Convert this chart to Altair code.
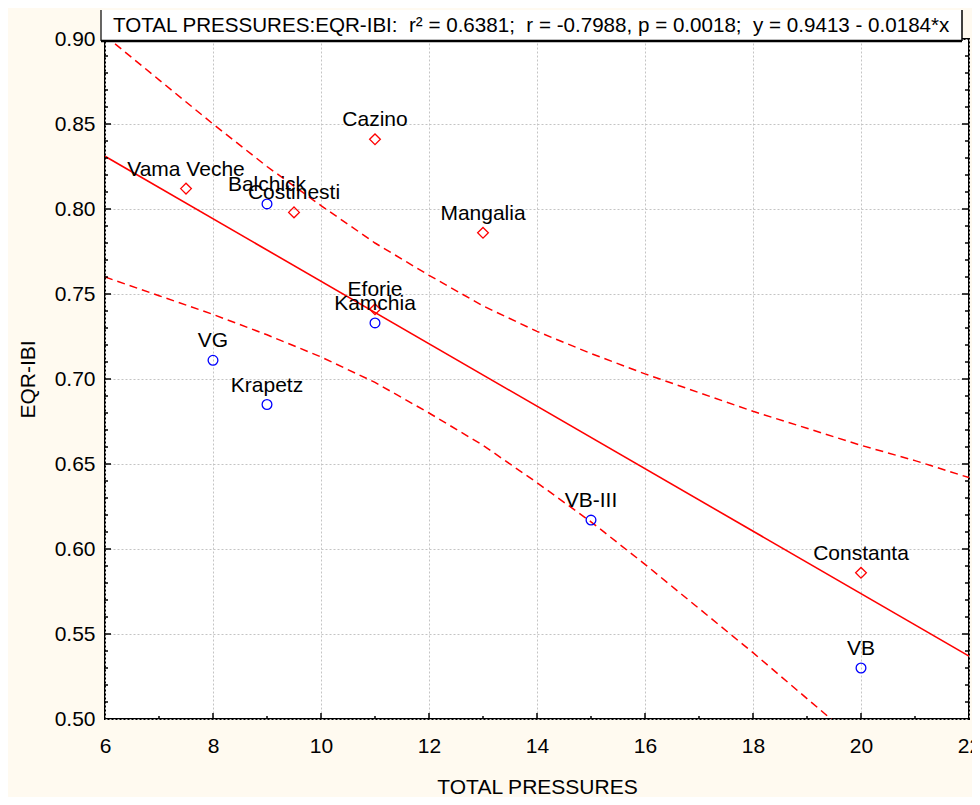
import altair as alt
import pandas as pd

# ---------------- data ----------------
site_names = ["Vama Veche", "Costinesti", "Cazino", "Mangalia", "Eforie", "Constanta",
              "Balchick", "VG", "Krapetz", "Kamchia", "VB-III", "VB"]
pressures = [7.5, 9.5, 11, 13, 11, 20, 9, 8, 9, 11, 15, 20]
eqr_ibi = [0.812, 0.798, 0.841, 0.786, 0.741, 0.586, 0.803, 0.711, 0.685, 0.733, 0.617, 0.530]
group = ["RO", "RO", "RO", "RO", "RO", "RO", "BG", "BG", "BG", "BG", "BG", "BG"]

fit_x = [6, 22]
fit_y = [0.831, 0.537]

band_x = [6, 7, 8, 9, 10, 11, 12, 13, 14, 15, 16, 17, 18, 19, 20, 21, 22]
band_upper = [0.902, 0.876, 0.850, 0.825, 0.802, 0.780, 0.761, 0.743, 0.728,
              0.715, 0.703, 0.692, 0.681, 0.671, 0.661, 0.652, 0.642]
band_lower = [0.760, 0.749, 0.738, 0.726, 0.713, 0.698, 0.680, 0.661, 0.639,
              0.616, 0.591, 0.565, 0.539, 0.512, 0.485, 0.458, 0.431]

x_labels = [6, 8, 10, 12, 14, 16, 18, 20, 22]
x_major_ticks = [8, 10, 12, 14, 16, 18, 20]
x_minor_ticks = [7, 9, 11, 13, 15, 17, 19, 21]
y_labels = [0.50, 0.55, 0.60, 0.65, 0.70, 0.75, 0.80, 0.85, 0.90]
y_major_ticks = [0.55, 0.60, 0.65, 0.70, 0.75, 0.80, 0.85]
y_minor_ticks = [0.51, 0.52, 0.53, 0.54, 0.56, 0.57, 0.58, 0.59, 0.61, 0.62, 0.63, 0.64,
                 0.66, 0.67, 0.68, 0.69, 0.71, 0.72, 0.73, 0.74, 0.76, 0.77, 0.78, 0.79,
                 0.81, 0.82, 0.83, 0.84, 0.86, 0.87, 0.88, 0.89]

title_text = ("TOTAL PRESSURES:EQR-IBI:\u00a0\u00a0r\u00b2 = 0.6381;\u00a0\u00a0r = -0.7988, "
              "p = 0.0018;\u00a0\u00a0y = 0.9413 - 0.0184*x")

# ---------------- layout ----------------
W, H = 864, 680
FONT = "Liberation Sans"
FS = 21
RED = "#ff0000"
BLUE = "#0000ff"

xs = alt.Scale(domain=[6, 22], nice=False, zero=False)
ys = alt.Scale(domain=[0.5, 0.9], nice=False, zero=False)

x_axis = alt.Axis(values=x_labels, format="d", grid=True, gridColor="#c4c4c4",
                  gridDash=[2, 2], gridWidth=1, tickSize=0, domain=False,
                  labelFont=FONT, labelFontSize=FS, labelColor="black",
                  labelPadding=33, labelBaseline="alphabetic", labelFlush=False,
                  title="TOTAL PRESSURES", titleFont=FONT, titleFontSize=FS,
                  titleFontWeight="normal", titleColor="black",
                  titleY=74, titleBaseline="alphabetic")
y_axis = alt.Axis(values=y_labels, format=".2f", grid=True, gridColor="#c4c4c4",
                  gridDash=[2, 2], gridWidth=1, tickSize=0, domain=False,
                  labelFont=FONT, labelFontSize=FS, labelColor="black",
                  labelPadding=10, labelFlush=False,
                  title="EQR-IBI", titleFont=FONT, titleFontSize=FS,
                  titleFontWeight="normal", titleColor="black",
                  titleAngle=270, titleX=-77, titleY=H / 2,
                  titleAlign="center", titleBaseline="middle")


def X(field):
    return alt.X(field, type="quantitative", scale=xs, axis=x_axis, title="TOTAL PRESSURES")


def Y(field):
    return alt.Y(field, type="quantitative", scale=ys, axis=y_axis, title="EQR-IBI")


pts = pd.DataFrame({"site": site_names, "x": pressures, "y": eqr_ibi, "g": group})
fit = pd.DataFrame({"x": fit_x, "y": fit_y})
band = pd.DataFrame({"x": band_x, "up": band_upper, "lo": band_lower})

upper = alt.Chart(band).mark_line(color=RED, strokeWidth=1.5, strokeDash=[8, 5], clip=True).encode(
    x=X("x"), y=Y("up"))
lower = alt.Chart(band).mark_line(color=RED, strokeWidth=1.5, strokeDash=[8, 5], clip=True).encode(
    x=X("x"), y=Y("lo"))
line = alt.Chart(fit).mark_line(color=RED, strokeWidth=1.6, clip=True).encode(x=X("x"), y=Y("y"))

points = alt.Chart(pts).mark_point(filled=False, strokeWidth=1.3, opacity=1).encode(
    x=X("x"), y=Y("y"),
    shape=alt.Shape("g:N", scale=alt.Scale(domain=["RO", "BG"], range=["diamond", "circle"]), legend=None),
    color=alt.Color("g:N", scale=alt.Scale(domain=["RO", "BG"], range=[RED, BLUE]), legend=None),
    size=alt.Size("g:N", scale=alt.Scale(domain=["RO", "BG"], range=[115, 95]), legend=None),
)
labels = alt.Chart(pts).mark_text(dy=-13, baseline="alphabetic", align="center",
                                  font=FONT, fontSize=FS, color="black").encode(
    x=X("x"), y=Y("y"), text="site:N")

# inward ticks
xt_major = pd.DataFrame({"x": x_major_ticks})
xt_minor = pd.DataFrame({"x": x_minor_ticks})
yt_major = pd.DataFrame({"y": y_major_ticks})
yt_minor = pd.DataFrame({"y": y_minor_ticks})
tick_style = dict(color="black", strokeWidth=1.5)
ticks = [
    alt.Chart(xt_major).mark_rule(**tick_style).encode(x=X("x"), y=alt.value(H), y2=alt.value(H - 6)),
    alt.Chart(xt_minor).mark_rule(**tick_style).encode(x=X("x"), y=alt.value(H), y2=alt.value(H - 3)),
    alt.Chart(yt_major).mark_rule(**tick_style).encode(y=Y("y"), x=alt.value(0), x2=alt.value(6)),
    alt.Chart(yt_minor).mark_rule(**tick_style).encode(y=Y("y"), x=alt.value(0), x2=alt.value(3)),
    alt.Chart(yt_major).mark_rule(**tick_style).encode(y=Y("y"), x=alt.value(W), x2=alt.value(W - 7)),
    alt.Chart(yt_minor).mark_rule(**tick_style).encode(y=Y("y"), x=alt.value(W), x2=alt.value(W - 4)),
]

# title box
one = pd.DataFrame({"t": [title_text]})
bx0, bx1, by0, by1 = -4, 857, -29, 2
box_fill = alt.Chart(one).mark_rect(color="white").encode(
    x=alt.value(bx0), x2=alt.value(bx1), y=alt.value(by0), y2=alt.value(by1))
box_left = alt.Chart(one).mark_rule(color="black", strokeWidth=1.2).encode(
    x=alt.value(bx0), y=alt.value(by0), y2=alt.value(by1))
box_right = alt.Chart(one).mark_rule(color="black", strokeWidth=1.5).encode(
    x=alt.value(bx1), y=alt.value(by0), y2=alt.value(by1))
box_bottom = alt.Chart(one).mark_rule(color="black", strokeWidth=2.5).encode(
    x=alt.value(bx0), x2=alt.value(bx1), y=alt.value(by1))
box_text = alt.Chart(one).mark_text(align="left", baseline="alphabetic", font=FONT,
                                    fontSize=20.6, color="black").encode(
    x=alt.value(bx0 + 12), y=alt.value(-7), text="t:N")

chart = alt.layer(
    upper, lower, line, *ticks, points, labels,
    box_fill, box_left, box_right, box_bottom, box_text
).properties(
    width=W, height=H,
    background="#fffaf0",
    padding={"left": 97, "top": 31, "right": 3, "bottom": 78},
    autosize=alt.AutoSizeParams(type="none"),
).configure_view(
    fill="white", stroke="black", strokeWidth=2
)

chart.save("out.html", embed_options={"renderer": "svg", "actions": False})
